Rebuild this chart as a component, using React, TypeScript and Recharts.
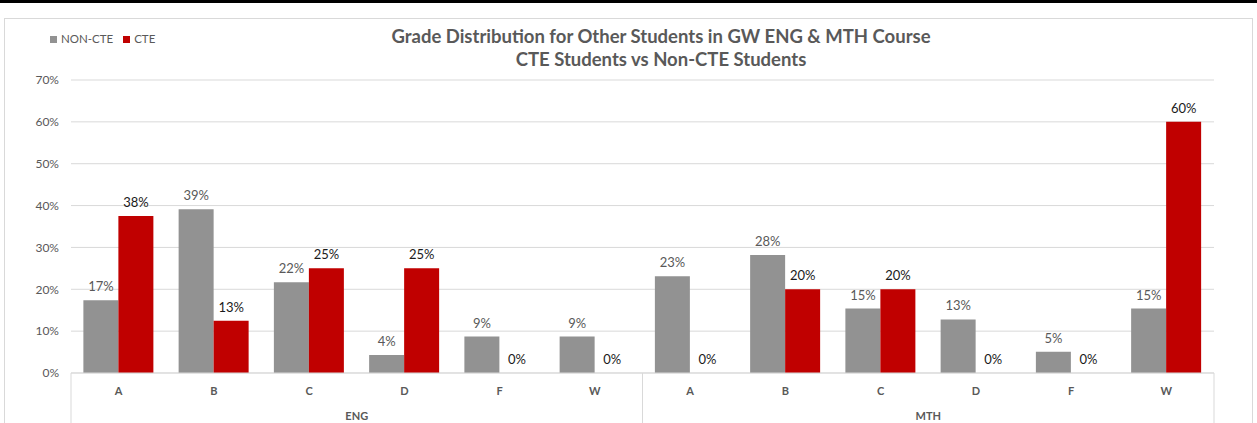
import { BarChart, Bar, XAxis, YAxis, CartesianGrid, LabelList } from "recharts";

const grades = ["A", "B", "C", "D", "F", "W"];
const courses = ["ENG", "MTH"];
const nonCteEng = [17.4, 39.1, 21.7, 4.3, 8.7, 8.7];
const cteEng = [37.5, 12.5, 25, 25, 0, 0];
const nonCteMth = [23.1, 28.2, 15.4, 12.8, 5.1, 15.4];
const cteMth = [0, 20, 20, 0, 0, 60];
const yTicks = [0, 10, 20, 30, 40, 50, 60, 70];
const seriesNames = ["NON-CTE", "CTE"];

const GREY = "#929292";
const RED = "#c00000";
const TEXT = "#595959";
const LINE = "#d9d9d9";
const FONT = "Lato, 'Open Sans', sans-serif";

const data = courses.flatMap((course, ci) =>
  grades.map((grade, gi) => ({
    course,
    grade,
    nonCte: ci === 0 ? nonCteEng[gi] : nonCteMth[gi],
    cte: ci === 0 ? cteEng[gi] : cteMth[gi],
  }))
);

const pct = (v: number) => `${Math.round(v)}%`;

const GroupedTick = (props: any) => {
  const { x, y, payload, index } = props;
  const half = payload?.offset ?? 47.6;
  const perGroup = grades.length;
  const pos = index % perGroup;
  return (
    <g>
      <text x={x} y={y + 22} textAnchor="middle" fill={TEXT} fontSize={11} fontWeight={700} fontFamily={FONT}>
        {payload.value}
      </text>
      {pos === 0 && <line x1={x - half} x2={x - half} y1={y} y2={y + 60} stroke={LINE} />}
      {index === data.length - 1 && <line x1={x + half} x2={x + half} y1={y} y2={y + 60} stroke={LINE} />}
      {pos === 2 && (
        <text x={x + half} y={y + 47} textAnchor="middle" fill={TEXT} fontSize={11} fontWeight={700} fontFamily={FONT}>
          {data[index].course}
        </text>
      )}
    </g>
  );
};

export default function App() {
  return (
    <div style={{ position: "relative", width: 1257, height: 423, background: "#fff", overflow: "hidden", fontFamily: FONT }}>
      <style>{"body{margin:0}"}</style>
      <div style={{ position: "absolute", left: 0, top: 0, width: 1257, height: 3, background: "#000" }} />
      <div style={{ position: "absolute", left: 4, top: 18, width: 1247, height: 430, border: `1px solid ${LINE}` }} />
      <div
        style={{
          position: "absolute",
          left: 65,
          top: 25,
          width: 1192,
          textAlign: "center",
          color: TEXT,
          fontSize: 18.5,
          fontWeight: 700,
          lineHeight: "23px",
        }}
      >
        <div>Grade Distribution for Other Students in GW ENG &amp; MTH Course</div>
        <div>CTE Students vs Non-CTE Students</div>
      </div>
      <div style={{ position: "absolute", left: 50, top: 32, display: "flex", fontSize: 11.5, color: TEXT, lineHeight: "14px" }}>
        {seriesNames.map((name, i) => (
          <div key={name} style={{ display: "flex", alignItems: "center", marginRight: 10 }}>
            <span style={{ display: "inline-block", width: 7, height: 7, background: i === 0 ? GREY : RED, marginRight: 4 }} />
            {name}
          </div>
        ))}
      </div>
      <div style={{ position: "absolute", left: 0, top: 0 }}>
        <BarChart
          width={1257}
          height={423}
          data={data}
          margin={{ top: 80, right: 43, bottom: 0, left: 21 }}
          barCategoryGap="13%"
          barGap={0}
        >
          <CartesianGrid vertical={false} stroke={LINE} />
          <XAxis
            dataKey="grade"
            interval={0}
            height={50}
            tickSize={0}
            tickMargin={0}
            axisLine={{ stroke: LINE }}
            tickLine={false}
            tick={<GroupedTick />}
          />
          <YAxis
            domain={[0, 70]}
            ticks={yTicks}
            width={50}
            tickFormatter={(v: number) => `${v}%`}
            axisLine={false}
            tickLine={false}
            tickMargin={6}
            tick={{ fontSize: 12, fill: TEXT, fontFamily: FONT }}
          />
          <Bar dataKey="nonCte" name="NON-CTE" fill={GREY} minPointSize={0.01} isAnimationActive={false}>
            <LabelList dataKey="nonCte" position="top" offset={9} formatter={pct} fill={TEXT} fontSize={13} fontFamily={FONT} />
          </Bar>
          <Bar dataKey="cte" name="CTE" fill={RED} minPointSize={0.01} isAnimationActive={false}>
            <LabelList dataKey="cte" position="top" offset={9} formatter={pct} fill="#1a1a1a" fontSize={13} fontFamily={FONT} />
          </Bar>
        </BarChart>
      </div>
    </div>
  );
}
